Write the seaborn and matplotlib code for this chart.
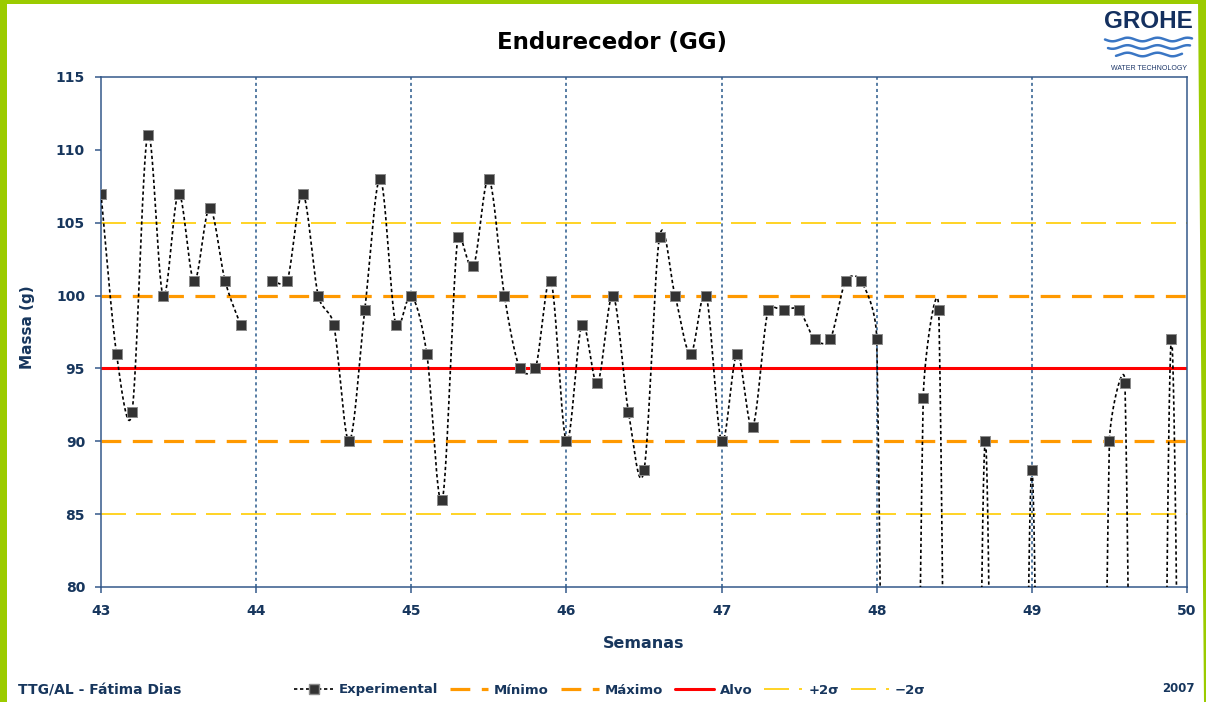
import numpy as np
import matplotlib
matplotlib.use("Agg")
import matplotlib.pyplot as plt
from matplotlib.lines import Line2D
from matplotlib.patches import Rectangle, Polygon
import seaborn as sns

# ---- data -------------------------------------------------------------
semanas = [43.0, 43.1, 43.2, 43.3, 43.4, 43.5, 43.6, 43.7, 43.8, 43.9,
           44.0, 44.1, 44.2, 44.3, 44.4, 44.5, 44.6, 44.7, 44.8, 44.9,
           45.0, 45.1, 45.2, 45.3, 45.4, 45.5, 45.6, 45.7, 45.8, 45.9,
           46.0, 46.1, 46.2, 46.3, 46.4, 46.5, 46.6, 46.7, 46.8, 46.9,
           47.0, 47.1, 47.2, 47.3, 47.4, 47.5, 47.6, 47.7, 47.8, 47.9,
           48.0, 48.1, 48.2, 48.3, 48.4, 48.5, 48.6, 48.7, 48.8, 48.9,
           49.0, 49.1, 49.2, 49.3, 49.4, 49.5, 49.6, 49.7, 49.8, 49.9,
           50.0]
massa = [107, 96, 92, 111, 100, 107, 101, 106, 101, 98,
         None, 101, 101, 107, 100, 98, 90, 99, 108, 98,
         100, 96, 86, 104, 102, 108, 100, 95, 95, 101,
         90, 98, 94, 100, 92, 88, 104, 100, 96, 100,
         90, 96, 91, 99, 99, 99, 97, 97, 101, 101,
         97, 0, 0, 93, 99, 0, 0, 90, 0, 0,
         88, 0, 0, 0, 0, 90, 94, 0, 0, 97,
         0]
minimo = 90
maximo = 100
alvo = 95
mais_2s = 105
menos_2s = 85

x_ticks = [43, 44, 45, 46, 47, 48, 49, 50]
y_ticks = [80, 85, 90, 95, 100, 105, 110, 115]

# ---- style ------------------------------------------------------------
sns.set_theme(style="white")
plt.rcParams["font.family"] = ["DejaVu Sans"]
plt.rcParams["font.weight"] = "bold"

NAVY = "#17365D"
AXIS = "#34598A"
ORANGE = "#FF9900"
RED = "#FF0000"
GOLD = "#FFCC00"
GREEN = "#9BCB00"

W, H = 1206, 702
fig = plt.figure(figsize=(W / 100, H / 100), dpi=100)
fig.patch.set_facecolor("white")


def fx(px):
    return px / W


def fy(py):
    return 1 - py / H


ax_l, ax_r, ax_t, ax_b = 101, 1187, 77, 587
ax = fig.add_axes([fx(ax_l), fy(ax_b), fx(ax_r - ax_l), (ax_b - ax_t) / H])
ax.set_facecolor("white")
ax.set_xlim(x_ticks[0], x_ticks[-1])
ax.set_ylim(y_ticks[0], y_ticks[-1])

# vertical week separators
for xv in x_ticks[1:-1]:
    ax.axvline(xv, color="#2A5A8C", lw=1.1, ls=(0, (2, 2)), zorder=1)

# reference levels
ax.axhline(mais_2s, color=GOLD, lw=1.2, ls=(0, (15, 6)), zorder=2)
ax.axhline(menos_2s, color=GOLD, lw=1.2, ls=(0, (15, 6)), zorder=2)
ax.axhline(minimo, color=ORANGE, lw=2.3, ls=(0, (6.2, 3.6)), zorder=2)
ax.axhline(maximo, color=ORANGE, lw=2.3, ls=(0, (6.2, 3.6)), zorder=2)
ax.axhline(alvo, color=RED, lw=2.2, zorder=2)

# smoothed connecting line: Bezier segments built in screen proportions,
# with control arms limited to half the segment length
xs = np.array(semanas, dtype=float)
ys = np.array([np.nan if v is None else v for v in massa], dtype=float)
sx = (ax_r - ax_l) / (x_ticks[-1] - x_ticks[0])
sy = (ax_b - ax_t) / (y_ticks[-1] - y_ticks[0])


def smooth_run(xr, yr, steps=300):
    P = np.column_stack([xr * sx, yr * sy])
    n = len(P)
    px, py = [], []
    t = np.linspace(0, 1, steps)[:, None]
    for i in range(n - 1):
        p0 = P[max(i - 1, 0)]
        p1 = P[i]
        p2 = P[i + 1]
        p3 = P[min(i + 2, n - 1)]
        d02 = np.hypot(*(p2 - p0))
        d12 = np.hypot(*(p2 - p1))
        d13 = np.hypot(*(p3 - p1))
        f1 = 1 / 6 if d02 / 6 < d12 / 2 else d12 / (2 * d02)
        f2 = 1 / 6 if d13 / 6 < d12 / 2 else d12 / (2 * d13)
        c1 = p1 + f1 * (p2 - p0)
        c2 = p2 - f2 * (p3 - p1)
        pts = ((1 - t) ** 3) * p1 + 3 * ((1 - t) ** 2) * t * c1 \
            + 3 * (1 - t) * (t ** 2) * c2 + (t ** 3) * p2
        px.append(pts[:, 0])
        py.append(pts[:, 1])
    return np.concatenate(px) / sx, np.concatenate(py) / sy


valid = ~np.isnan(ys)
runs, start = [], None
for i, ok in enumerate(valid):
    if ok and start is None:
        start = i
    if (not ok or i == len(valid) - 1) and start is not None:
        end = i + 1 if ok else i
        runs.append((start, end))
        start = None

for a, b in runs:
    if b - a >= 2:
        cx, cy = smooth_run(xs[a:b], ys[a:b])
        sns.lineplot(x=cx, y=cy, sort=False, estimator=None, ax=ax,
                     color="black", lw=1.2, ls=(0, (2, 1.6)), zorder=4)

sns.scatterplot(x=xs[valid], y=ys[valid], ax=ax, marker="s", s=48,
                color="#333333", edgecolor="#8C8C8C", linewidth=0.7,
                zorder=6, legend=False)

# axes frame and ticks
for sp in ax.spines.values():
    sp.set_visible(True)
    sp.set_color(AXIS)
    sp.set_linewidth(1.1)
ax.set_xticks(x_ticks)
ax.set_yticks(y_ticks)
ax.set_xticklabels([str(v) for v in x_ticks])
ax.set_yticklabels([str(v) for v in y_ticks])
ax.tick_params(axis="both", direction="out", length=4.5, width=1.1,
               color=AXIS, labelcolor=NAVY, labelsize=10)
ax.tick_params(axis="y", pad=7, left=True)
ax.tick_params(axis="x", pad=8, bottom=True)
for lab in ax.get_xticklabels() + ax.get_yticklabels():
    lab.set_fontweight("bold")
ax.set_xlabel("")
ax.set_ylabel("")
ax.grid(False)

# titles and labels
fig.text(fx(612), fy(42), "Endurecedor (GG)", ha="center", va="center",
         fontsize=16.5, fontweight="bold", color="black")
fig.text(fx(644), fy(644), "Semanas", ha="center", va="center",
         fontsize=11.5, fontweight="bold", color=NAVY)
fig.text(fx(28), fy(327), "Massa (g)", ha="center", va="center",
         rotation=90, fontsize=11, fontweight="bold", color=NAVY)

# footer
fig.text(fx(18), fy(690), "TTG/AL - Fátima Dias", ha="left", va="center",
         fontsize=10, fontweight="bold", color=NAVY)
fig.text(fx(1195), fy(689), "2007", ha="right", va="center",
         fontsize=8.5, fontweight="bold", color=NAVY)

# legend
handles = [
    Line2D([], [], color="black", lw=1.2, ls=(0, (2, 1.6)), marker="s",
           markersize=6.5, markerfacecolor="#333333", markeredgecolor="#8C8C8C"),
    Line2D([], [], color=ORANGE, lw=2.3, ls=(0, (6.2, 3.6))),
    Line2D([], [], color=ORANGE, lw=2.3, ls=(0, (6.2, 3.6))),
    Line2D([], [], color=RED, lw=2.2),
    Line2D([], [], color=GOLD, lw=1.2, ls=(0, (15, 6))),
    Line2D([], [], color=GOLD, lw=1.2, ls=(0, (15, 6))),
]
labels = ["Experimental", "Mínimo", "Máximo", "Alvo", "+2σ", "\u22122σ"]
leg = fig.legend(handles, labels, loc="center", ncol=6,
                 bbox_to_anchor=(fx(610), fy(690)), frameon=False,
                 fontsize=9.5, handlelength=2.9, handletextpad=0.45,
                 columnspacing=0.9, borderpad=0)
for t in leg.get_texts():
    t.set_color(NAVY)
    t.set_fontweight("bold")

# company mark, top right
fig.text(fx(1148), fy(22), "GROHE", ha="center", va="center",
         fontsize=17.5, fontweight="heavy", color="#14305F",
         family=["Liberation Sans", "DejaVu Sans"])
wave_color = "#3A76C4"
for y0, xa, xb in [(39.5, 1105, 1192), (47, 1108, 1190), (54.5, 1116, 1182)]:
    wx = np.linspace(xa, xb, 200)
    wy = y0 + 1.8 * np.sin(2 * np.pi * (wx - 1105) / 30)
    fig.add_artist(Line2D(fx(wx), fy(wy), transform=fig.transFigure,
                          color=wave_color, lw=1.8))
fig.text(fx(1149), fy(68), "WATER TECHNOLOGY", ha="center", va="center",
         fontsize=5, fontweight="normal", color="#1B3567",
         family=["Liberation Sans", "DejaVu Sans"])

# green frame of the slide
fig.add_artist(Rectangle((0, 0), fx(7), 1, transform=fig.transFigure,
                         color=GREEN, lw=0, zorder=10))
fig.add_artist(Rectangle((0, fy(4)), 1, 4 / H, transform=fig.transFigure,
                         color=GREEN, lw=0, zorder=10))
fig.add_artist(Polygon([(fx(1198), 1), (1, 1), (1, 0), (fx(1204), 0)],
                       closed=True, transform=fig.transFigure,
                       color=GREEN, lw=0, zorder=10))

fig.savefig("out.png", dpi=100, facecolor="white")
